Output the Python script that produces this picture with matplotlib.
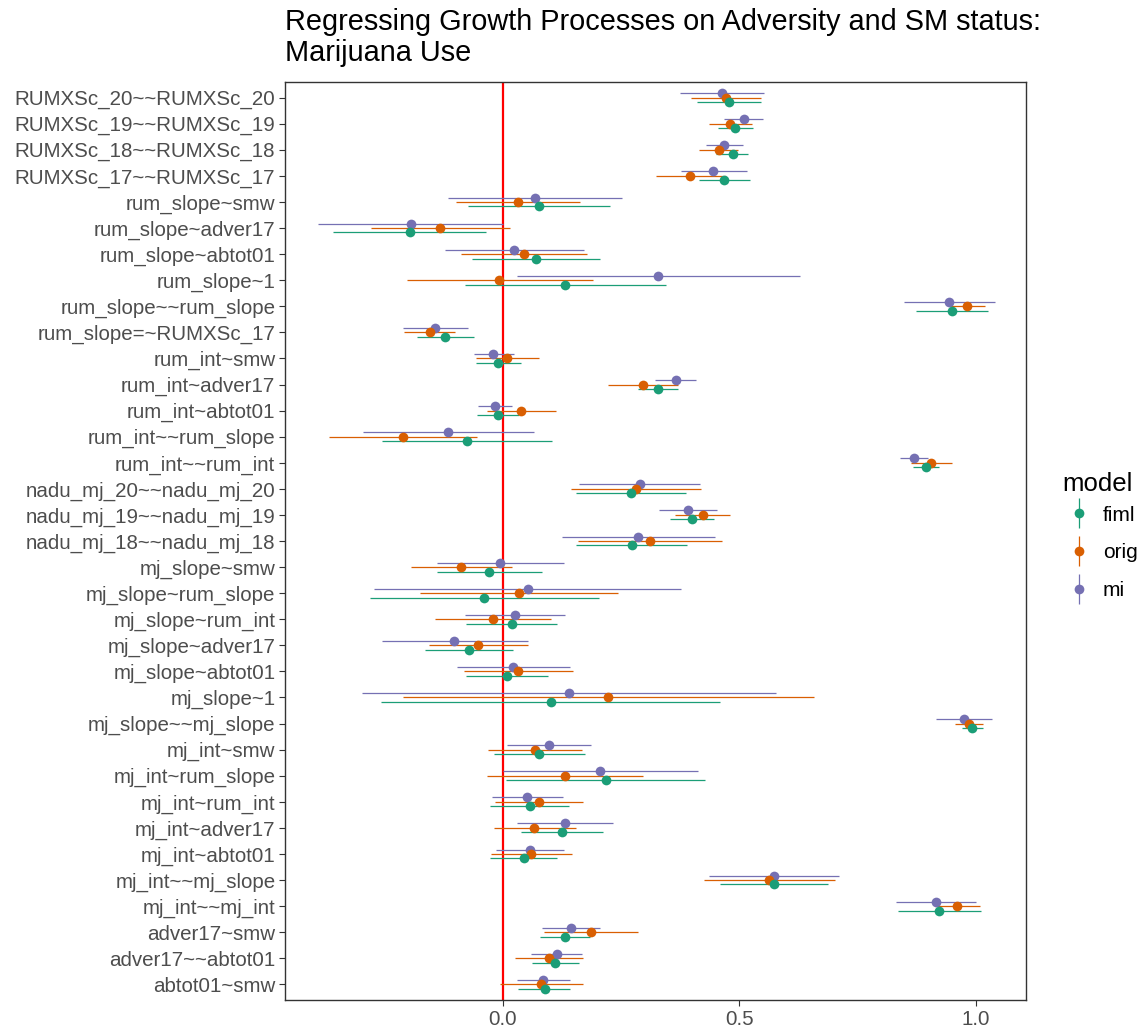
import matplotlib
matplotlib.use("Agg")
import matplotlib.pyplot as plt
from matplotlib.lines import Line2D
from matplotlib.legend_handler import HandlerTuple
import numpy as np

plt.rcParams['font.family'] = ['Liberation Sans', 'DejaVu Sans']

params = [
    "RUMXSc_20~~RUMXSc_20", "RUMXSc_19~~RUMXSc_19", "RUMXSc_18~~RUMXSc_18",
    "RUMXSc_17~~RUMXSc_17", "rum_slope~smw", "rum_slope~adver17",
    "rum_slope~abtot01", "rum_slope~1", "rum_slope~~rum_slope",
    "rum_slope=~RUMXSc_17", "rum_int~smw", "rum_int~adver17",
    "rum_int~abtot01", "rum_int~~rum_slope", "rum_int~~rum_int",
    "nadu_mj_20~~nadu_mj_20", "nadu_mj_19~~nadu_mj_19", "nadu_mj_18~~nadu_mj_18",
    "mj_slope~smw", "mj_slope~rum_slope", "mj_slope~rum_int",
    "mj_slope~adver17", "mj_slope~abtot01", "mj_slope~1",
    "mj_slope~~mj_slope", "mj_int~smw", "mj_int~rum_slope",
    "mj_int~rum_int", "mj_int~adver17", "mj_int~abtot01",
    "mj_int~~mj_slope", "mj_int~~mj_int", "adver17~smw",
    "adver17~~abtot01", "abtot01~smw",
]

fiml_est = [0.477, 0.491, 0.486, 0.468, 0.077, -0.196, 0.070, 0.132, 0.950, -0.122,
            -0.010, 0.327, -0.011, -0.077, 0.894, 0.271, 0.400, 0.272, -0.029, -0.040,
            0.019, -0.073, 0.008, 0.101, 0.992, 0.077, 0.218, 0.056, 0.124, 0.044,
            0.573, 0.922, 0.132, 0.110, 0.088]
fiml_lo = [0.410, 0.454, 0.451, 0.415, -0.075, -0.359, -0.065, -0.081, 0.874, -0.181,
           -0.058, 0.285, -0.055, -0.256, 0.867, 0.154, 0.353, 0.154, -0.140, -0.282,
           -0.078, -0.165, -0.078, -0.259, 0.970, -0.020, 0.007, -0.027, 0.037, -0.027,
           0.459, 0.835, 0.079, 0.061, 0.031]
fiml_hi = [0.546, 0.529, 0.517, 0.523, 0.227, -0.036, 0.205, 0.344, 1.025, -0.061,
           0.037, 0.370, 0.033, 0.103, 0.921, 0.386, 0.446, 0.390, 0.082, 0.203,
           0.115, 0.021, 0.095, 0.458, 1.016, 0.173, 0.427, 0.140, 0.212, 0.115,
           0.687, 1.010, 0.184, 0.160, 0.142]

orig_est = [0.471, 0.480, 0.456, 0.396, 0.031, -0.133, 0.044, -0.008, 0.982, -0.155,
            0.008, 0.296, 0.037, -0.212, 0.905, 0.282, 0.422, 0.311, -0.089, 0.033,
            -0.022, -0.052, 0.031, 0.223, 0.985, 0.067, 0.132, 0.077, 0.066, 0.059,
            0.562, 0.961, 0.185, 0.097, 0.080]
orig_lo = [0.397, 0.436, 0.414, 0.324, -0.100, -0.280, -0.089, -0.204, 0.944, -0.209,
           -0.057, 0.223, -0.034, -0.368, 0.862, 0.144, 0.364, 0.159, -0.195, -0.176,
           -0.143, -0.156, -0.083, -0.211, 0.956, -0.032, -0.034, -0.017, -0.020, -0.026,
           0.424, 0.914, 0.087, 0.025, -0.006]
orig_hi = [0.546, 0.527, 0.496, 0.471, 0.163, 0.015, 0.178, 0.190, 1.020, -0.101,
           0.077, 0.370, 0.111, -0.056, 0.950, 0.419, 0.481, 0.463, 0.020, 0.244,
           0.101, 0.052, 0.147, 0.657, 1.014, 0.167, 0.297, 0.169, 0.154, 0.146,
           0.701, 1.008, 0.285, 0.169, 0.169]

mi_est = [0.462, 0.509, 0.468, 0.445, 0.067, -0.195, 0.023, 0.328, 0.944, -0.144,
          -0.021, 0.365, -0.017, -0.116, 0.869, 0.289, 0.391, 0.286, -0.007, 0.052,
          0.026, -0.103, 0.021, 0.139, 0.975, 0.097, 0.205, 0.051, 0.131, 0.056,
          0.573, 0.915, 0.144, 0.114, 0.085]
mi_lo = [0.374, 0.468, 0.430, 0.376, -0.117, -0.392, -0.123, 0.029, 0.847, -0.212,
         -0.062, 0.321, -0.054, -0.297, 0.839, 0.161, 0.329, 0.125, -0.140, -0.273,
         -0.080, -0.257, -0.098, -0.299, 0.916, 0.008, 0.000, -0.024, 0.029, -0.015,
         0.435, 0.832, 0.082, 0.059, 0.029]
mi_hi = [0.552, 0.550, 0.507, 0.515, 0.252, 0.000, 0.171, 0.627, 1.040, -0.075,
         0.023, 0.409, 0.020, 0.065, 0.899, 0.417, 0.452, 0.448, 0.128, 0.377,
         0.132, 0.052, 0.142, 0.577, 1.035, 0.185, 0.413, 0.126, 0.233, 0.129,
         0.711, 1.000, 0.206, 0.168, 0.142]

models = ["fiml", "orig", "mi"]
colors = {"fiml": "#1B9E77", "orig": "#D95F02", "mi": "#7570B3"}
series = {
    "fiml": (fiml_est, fiml_lo, fiml_hi),
    "orig": (orig_est, orig_lo, orig_hi),
    "mi": (mi_est, mi_lo, mi_hi),
}
# vertical dodge: mi above, orig centred, fiml below
dodge = {"mi": 0.17, "orig": 0.0, "fiml": -0.17}

fig = plt.figure(figsize=(11.37, 10.29), dpi=100)
ax = fig.add_axes([0.2507, 0.0282, 0.6517, 0.8921])

n = len(params)
ypos = np.arange(n, 0, -1)

ax.axvline(0, color="#FF0000", lw=1.6, zorder=1)

for z, m in enumerate(["mi", "orig", "fiml"]):
    est, lo, hi = (np.array(v) for v in series[m])
    y = ypos + dodge[m]
    ax.hlines(y, lo, hi, color=colors[m], lw=0.9, zorder=2 + z)
    ax.plot(est, y, "o", color=colors[m], ms=7, mew=0, zorder=5 + z)

ax.set_xlim(-0.461, 1.106)
ax.set_ylim(0.4, n + 0.6)
ax.set_yticks(ypos)
ax.set_yticklabels(params)
ax.set_xticks([0.0, 0.5, 1.0])
ax.set_xticklabels(["0.0", "0.5", "1.0"])
ax.tick_params(axis="both", labelsize=14.8, labelcolor="#4D4D4D",
               color="#333333", length=4, width=0.8, pad=3)
for s in ax.spines.values():
    s.set_color("#333333")
    s.set_linewidth(1.0)

fig.text(0.2507, 0.9636, "Regressing Growth Processes on Adversity and SM status:\nMarijuana Use",
         fontsize=20.8, ha="left", va="center", linespacing=1.15)

# legend title drawn separately so the gap above the keys stays tight
fig.text(1062 / 1137, 1 - 484 / 1029, "model", fontsize=18.5, ha="left", va="center")
handles = [
    (Line2D([], [], color=colors[m], marker="|", ms=21, mew=0.9, ls="None"),
     Line2D([], [], color=colors[m], marker="o", ms=7, mew=0, ls="None"))
    for m in models
]
leg = fig.legend(handles, models, handler_map={tuple: HandlerTuple(ndivide=1, pad=0)},
                 loc="center left", bbox_to_anchor=(1062 / 1137, 1 - 553 / 1029),
                 frameon=False, fontsize=15, handlelength=1.6, handletextpad=0.35,
                 labelspacing=0.9, borderpad=0.0, borderaxespad=0.0)

fig.savefig("out.png", dpi=100)
